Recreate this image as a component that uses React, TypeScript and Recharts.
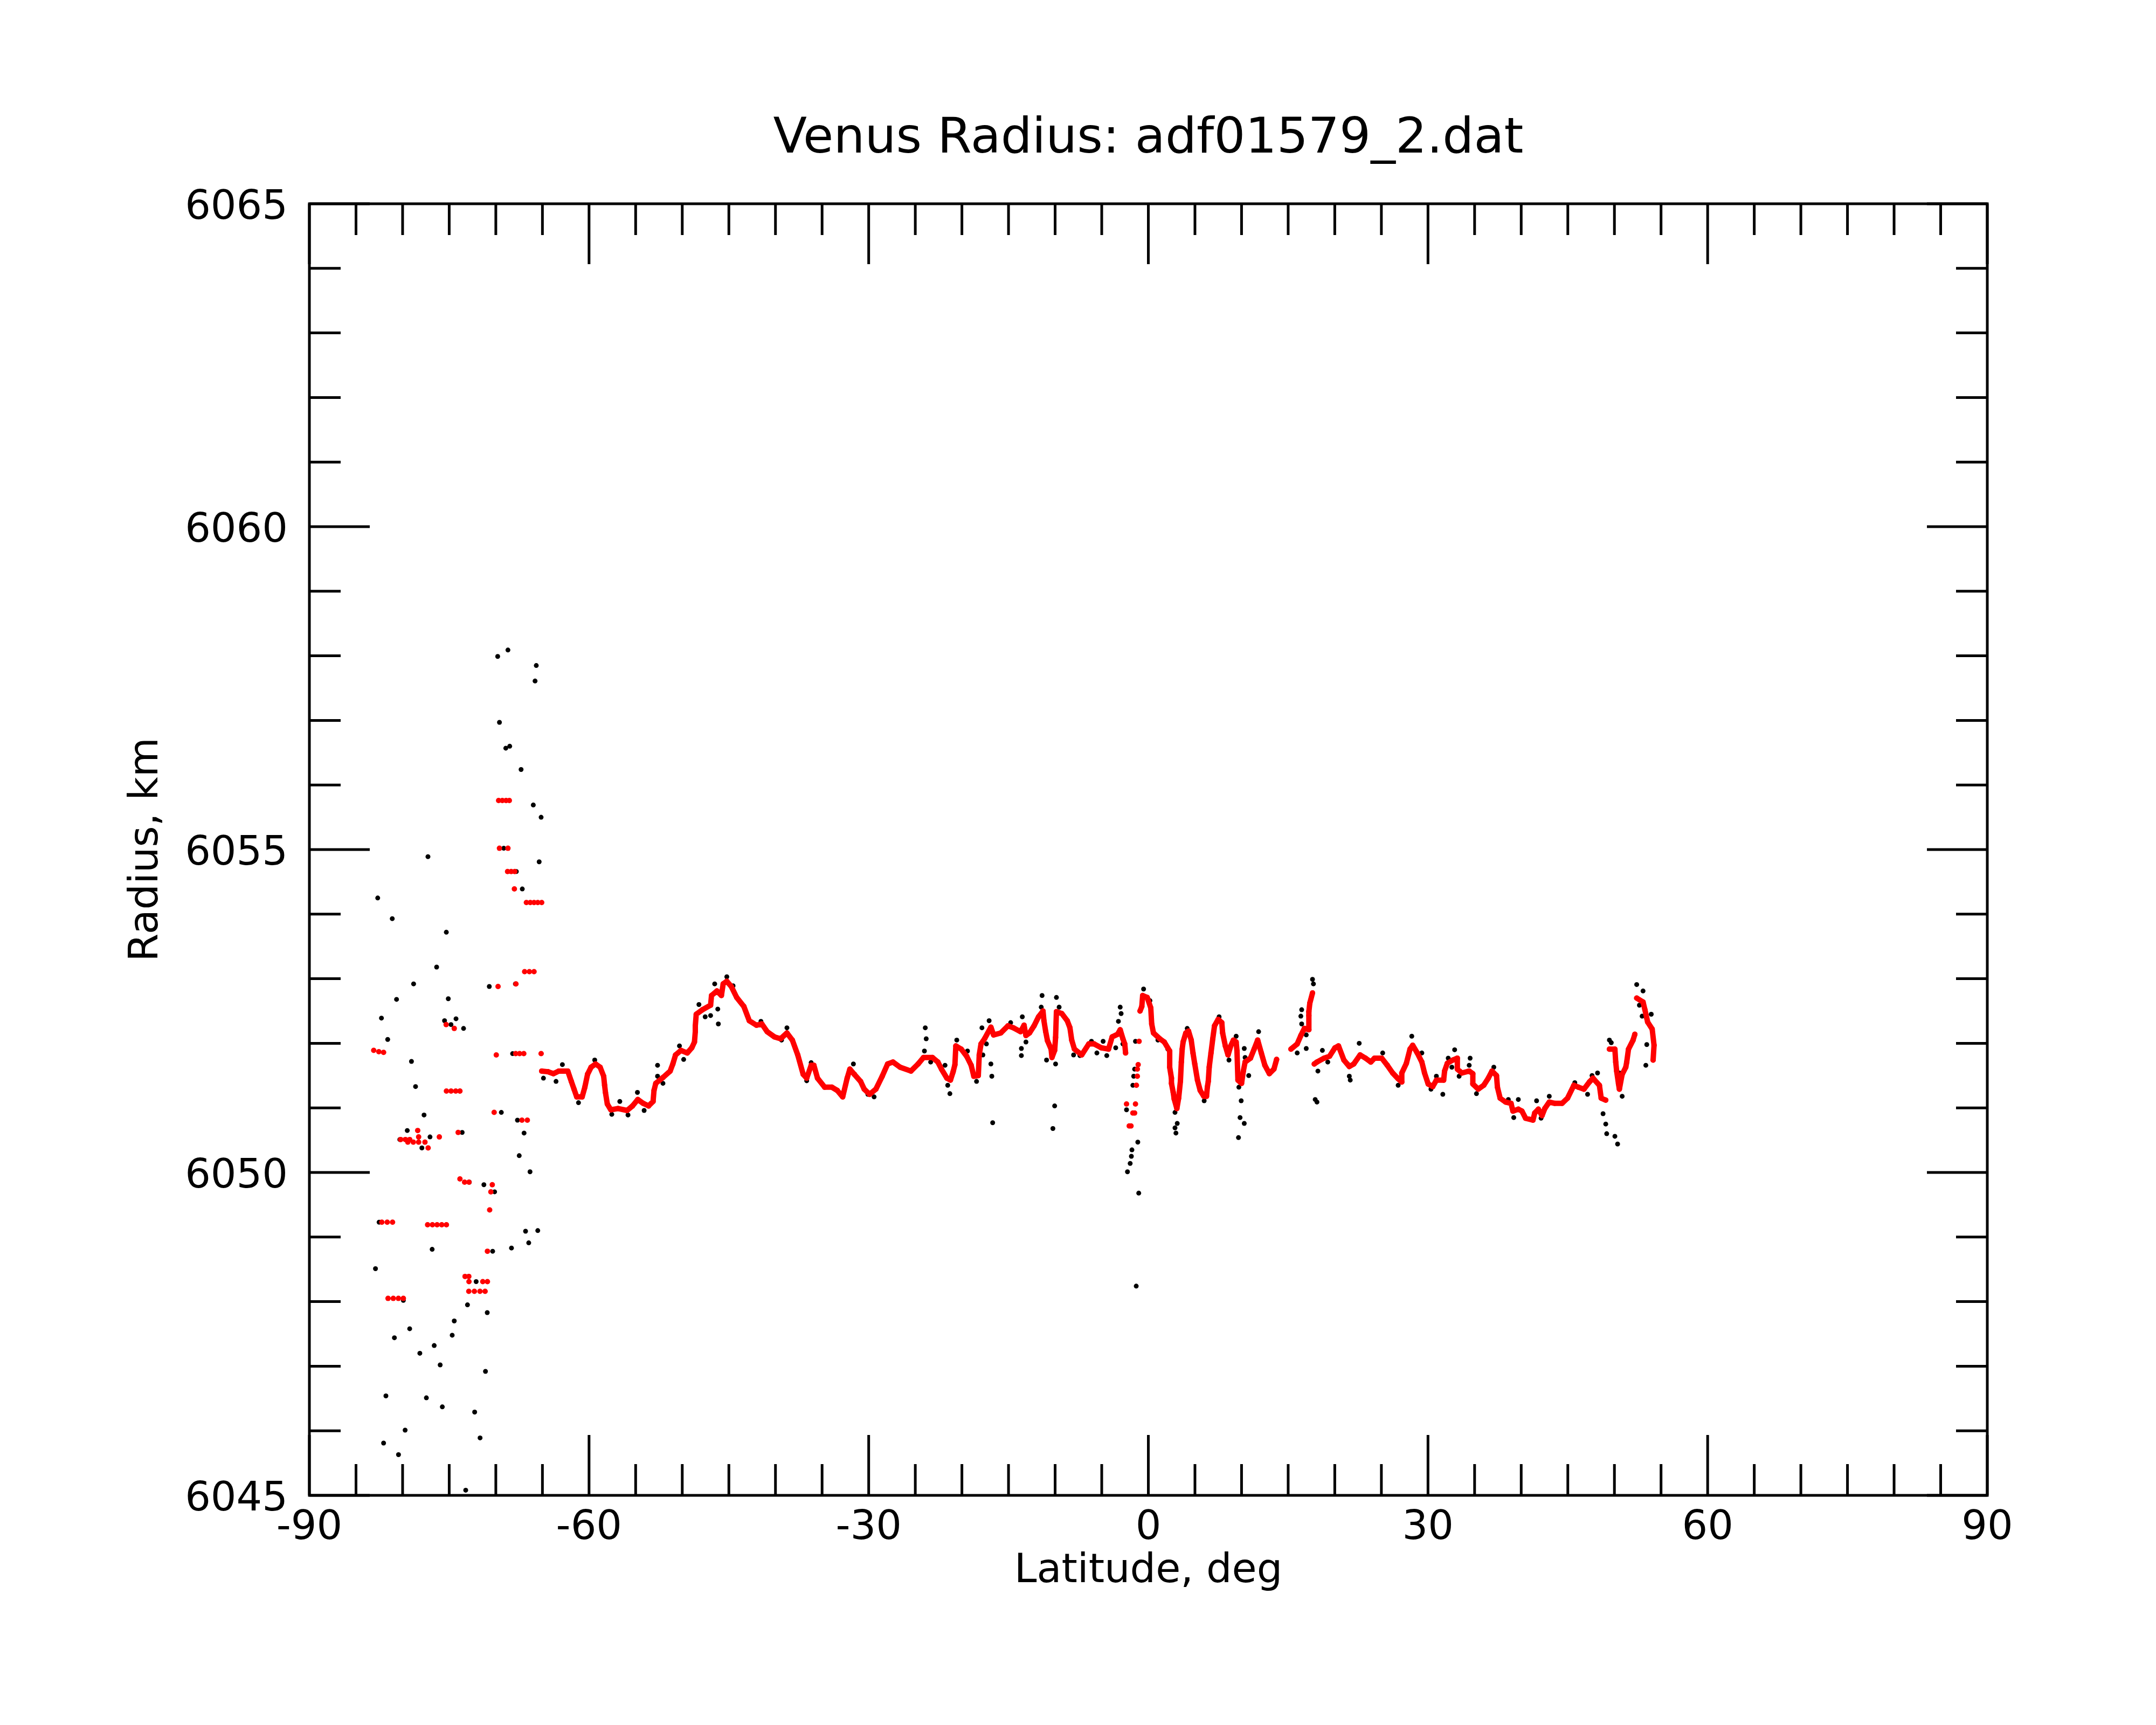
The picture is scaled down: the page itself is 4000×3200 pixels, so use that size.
import { ScatterChart, Scatter, XAxis, YAxis, ReferenceArea } from 'recharts';

// plot frame in page pixels
const W = 4000;
const H = 3200;
const PLOT_LEFT = 574;
const PLOT_TOP = 378;
const PLOT_RIGHT = 3687;
const PLOT_BOTTOM = 2774;
const PLOT_H = PLOT_BOTTOM - PLOT_TOP;
const FONT = '"DejaVu Sans", Verdana, sans-serif';

const X_TICKS = [-90, -85, -80, -75, -70, -65, -60, -55, -50, -45, -40, -35, -30, -25, -20, -15, -10, -5, 0,
  5, 10, 15, 20, 25, 30, 35, 40, 45, 50, 55, 60, 65, 70, 75, 80, 85, 90];
const Y_TICKS = [6045, 6046, 6047, 6048, 6049, 6050, 6051, 6052, 6053, 6054, 6055,
  6056, 6057, 6058, 6059, 6060, 6061, 6062, 6063, 6064, 6065];

// raw radius samples (black), south polar scatter
const rawSouth: [number, number][] = [
  [-68.70, 6058.09], [-69.80, 6057.99], [-65.66, 6057.85], [-65.79, 6057.61], [-69.61, 6056.97],
  [-68.93, 6056.57], [-68.51, 6056.60], [-67.29, 6056.24], [-65.98, 6055.69], [-65.14, 6055.50],
  [-77.28, 6054.89], [-69.15, 6055.02], [-65.35, 6054.81], [-67.80, 6054.66], [-67.16, 6054.39],
  [-82.67, 6054.25], [-81.11, 6053.93], [-75.31, 6053.72], [-76.35, 6053.18], [-78.82, 6052.92],
  [-70.70, 6052.88], [-67.90, 6052.92], [-80.65, 6052.68], [-75.10, 6052.69], [-82.27, 6052.39],
  [-75.50, 6052.35], [-74.27, 6052.38], [-74.81, 6052.29], [-73.46, 6052.23], [-81.60, 6052.06],
  [-79.05, 6051.72], [-68.20, 6051.84], [-65.14, 6051.84],
  [-78.61, 6051.33], [-73.86, 6051.26], [-77.70, 6050.89], [-69.41, 6050.93], [-67.68, 6050.81],
  [-66.97, 6050.61], [-79.50, 6050.65], [-80.30, 6050.51], [-77.06, 6050.55], [-77.93, 6050.38],
  [-73.61, 6050.62], [-67.49, 6050.26], [-66.33, 6050.01], [-72.84, 6049.85], [-71.28, 6049.81],
  [-70.13, 6049.70], [-82.52, 6049.23], [-76.83, 6048.81], [-66.81, 6049.09], [-65.50, 6049.10],
  [-66.47, 6048.91], [-68.32, 6048.83], [-70.34, 6048.78], [-82.91, 6048.51], [-72.90, 6048.39],
  [-72.11, 6048.31], [-81.56, 6048.05], [-79.92, 6048.02], [-73.04, 6047.95], [-70.92, 6047.83],
  [-74.46, 6047.70], [-79.24, 6047.58], [-80.88, 6047.44], [-74.68, 6047.48], [-76.61, 6047.32],
  [-78.15, 6047.20], [-75.97, 6047.02], [-71.11, 6046.92], [-81.79, 6046.54], [-77.45, 6046.51],
  [-75.74, 6046.37], [-72.27, 6046.29], [-79.73, 6046.01], [-71.69, 6045.89], [-82.04, 6045.81],
  [-80.44, 6045.63], [-73.23, 6045.08],
];

// raw samples that stand out from the smoothed profile
const rawMain: [number, number][] = [
  [-64.89, 6051.46], [-63.54, 6051.41], [-62.86, 6051.67], [-61.13, 6051.08], [-59.39, 6051.74],
  [-57.56, 6050.90], [-56.70, 6051.10], [-55.82, 6050.89], [-54.81, 6051.24], [-54.09, 6050.96],
  [-52.65, 6051.66], [-52.65, 6051.49], [-52.07, 6051.38], [-50.30, 6051.96], [-49.85, 6051.75],
  [-48.21, 6052.60], [-47.54, 6052.41], [-46.96, 6052.43], [-46.19, 6052.53], [-46.13, 6052.30],
  [-46.52, 6052.92], [-45.22, 6053.03], [-44.55, 6052.89], [-41.56, 6052.34], [-39.35, 6052.05],
  [-38.77, 6052.24], [-36.65, 6051.42], [-36.17, 6051.70],
  [-23.93, 6052.24], [-23.83, 6052.07], [-24.02, 6051.88], [-23.35, 6051.71], [-31.64, 6051.68],
  [-30.09, 6051.21], [-29.42, 6051.17], [-21.81, 6051.66], [-21.52, 6051.35], [-21.29, 6051.22],
  [-20.55, 6052.05], [-19.40, 6051.88], [-18.43, 6051.41], [-17.85, 6052.24], [-17.08, 6052.35],
  [-17.37, 6051.99], [-17.75, 6051.82], [-16.89, 6051.68], [-16.79, 6051.49], [-16.70, 6050.77],
  [-14.77, 6052.32], [-13.52, 6052.41], [-13.13, 6052.02], [-13.62, 6051.92], [-13.62, 6051.81],
  [-11.40, 6052.74], [-11.49, 6052.56], [-10.92, 6051.74], [-10.05, 6051.03], [-10.24, 6050.68],
  [-9.95, 6051.68], [-9.86, 6052.71], [-9.57, 6052.56], [-8.02, 6051.82], [-7.34, 6051.81],
  [-6.10, 6052.03],
  [-5.52, 6051.85], [-4.46, 6051.81], [-4.85, 6052.03], [-3.50, 6051.93], [-3.02, 6052.56],
  [-2.92, 6052.46], [-3.21, 6052.34], [-2.73, 6051.99], [-1.38, 6052.03], [-1.47, 6051.60],
  [-1.57, 6051.49], [-1.66, 6051.35], [-2.34, 6050.97], [-1.13, 6050.47], [-1.76, 6050.35],
  [-1.82, 6050.25], [-1.95, 6050.14], [-2.24, 6050.01], [-1.03, 6049.68], [-1.30, 6048.24],
  [-0.51, 6052.84], [0.17, 6052.66], [1.03, 6052.05], [2.09, 6051.91], [2.86, 6050.93],
  [3.10, 6050.76], [2.86, 6050.69], [2.96, 6050.61], [4.17, 6052.23], [5.99, 6051.11],
  [7.59, 6052.41], [8.65, 6051.74], [9.42, 6052.11], [10.29, 6051.92], [10.38, 6051.78],
  [10.77, 6051.50], [9.71, 6051.32], [9.96, 6051.11], [9.84, 6050.85], [10.29, 6050.76],
  [9.67, 6050.54], [11.83, 6052.18], [15.97, 6051.85], [16.94, 6051.92], [16.94, 6052.13],
  [16.45, 6052.30], [16.36, 6052.42], [16.45, 6052.52], [17.61, 6052.99], [17.71, 6052.92],
  [17.90, 6051.13], [18.09, 6051.09], [18.19, 6051.57], [18.67, 6051.89], [19.25, 6051.71],
  [22.62, 6052.00], [21.56, 6051.49], [21.66, 6051.43], [21.37, 6051.68],
  [25.14, 6051.85], [28.26, 6052.11], [29.34, 6051.85], [26.80, 6051.35], [30.32, 6051.29],
  [30.90, 6051.49], [31.59, 6051.21], [32.86, 6051.90], [32.17, 6051.77], [32.56, 6051.63],
  [34.52, 6051.77], [34.42, 6051.66], [33.34, 6051.49], [37.06, 6051.63], [35.20, 6051.22],
  [38.62, 6051.13], [39.69, 6051.13], [39.20, 6050.85], [41.65, 6051.11], [43.01, 6051.18],
  [42.13, 6050.84], [45.75, 6051.39], [47.12, 6051.21], [47.60, 6051.50], [48.19, 6051.54],
  [49.46, 6052.05], [49.66, 6052.01], [48.78, 6050.91], [49.07, 6050.75], [49.17, 6050.60],
  [50.05, 6050.56], [50.34, 6050.44], [50.83, 6051.18], [50.53, 6051.54], [52.39, 6052.91],
  [53.07, 6052.81], [52.68, 6052.59], [52.97, 6052.42], [53.95, 6052.45], [53.47, 6051.98],
  [53.37, 6051.66],
];

// smoothed profile (red), south polar steps
const smoothSouth: [number, number][] = [
  [-69.70, 6055.76], [-69.30, 6055.76], [-68.90, 6055.76], [-68.55, 6055.76],
  [-69.61, 6055.02], [-68.70, 6055.02],
  [-68.74, 6054.66], [-68.35, 6054.66], [-67.97, 6054.66], [-68.01, 6054.39],
  [-66.72, 6054.18], [-66.30, 6054.18], [-65.90, 6054.18], [-65.50, 6054.18], [-65.08, 6054.18],
  [-66.91, 6053.11], [-66.40, 6053.11], [-65.90, 6053.11],
  [-69.76, 6052.88], [-67.84, 6052.92], [-75.33, 6052.29], [-74.46, 6052.23],
  [-83.10, 6051.89], [-82.55, 6051.87], [-82.04, 6051.86], [-69.95, 6051.82],
  [-67.87, 6051.84], [-67.45, 6051.84], [-67.00, 6051.84], [-65.14, 6051.84],
  [-75.30, 6051.26], [-74.80, 6051.26], [-74.30, 6051.26], [-73.85, 6051.26],
  [-70.18, 6050.93], [-67.20, 6050.81], [-66.62, 6050.81], [-78.38, 6050.65],
  [-80.21, 6050.51], [-79.70, 6050.51], [-79.24, 6050.51], [-78.28, 6050.55], [-76.06, 6050.55],
  [-79.44, 6050.47], [-78.85, 6050.47], [-78.28, 6050.47], [-77.60, 6050.47], [-77.26, 6050.38],
  [-74.04, 6050.62], [-73.85, 6049.90], [-73.35, 6049.85], [-72.88, 6049.85],
  [-70.38, 6049.81], [-70.53, 6049.70], [-70.66, 6049.42],
  [-82.23, 6049.23], [-81.65, 6049.23], [-81.08, 6049.23],
  [-77.32, 6049.19], [-76.80, 6049.19], [-76.30, 6049.19], [-75.80, 6049.19], [-75.30, 6049.19],
  [-70.90, 6048.78], [-73.30, 6048.39], [-72.90, 6048.39],
  [-72.88, 6048.31], [-71.40, 6048.31], [-70.90, 6048.31],
  [-72.90, 6048.16], [-72.30, 6048.16], [-71.70, 6048.16], [-71.15, 6048.16],
  [-81.56, 6048.05], [-81.00, 6048.05], [-80.45, 6048.05], [-79.92, 6048.05],
  // loose dots near the equator
  [-0.99, 6052.03], [-1.09, 6051.67], [-1.18, 6051.60], [-1.18, 6051.49], [-1.28, 6051.35],
  [-2.34, 6051.06], [-1.38, 6051.06], [-1.66, 6050.92], [-1.47, 6050.92], [-2.05, 6050.72],
  [-1.86, 6050.72],
];

// smoothed profile, continuous runs
const smoothRunA: [number, number][] = [
  [-65.08, 6051.57], [-64.40, 6051.56], [-63.82, 6051.53], [-63.25, 6051.57], [-62.28, 6051.57],
  [-61.90, 6051.41], [-61.61, 6051.29], [-61.32, 6051.17], [-60.74, 6051.17], [-60.45, 6051.32],
  [-60.16, 6051.52], [-59.78, 6051.63], [-59.30, 6051.68], [-58.81, 6051.63], [-58.43, 6051.49],
  [-58.33, 6051.35], [-58.24, 6051.24], [-58.04, 6051.06], [-57.66, 6050.97], [-56.89, 6050.99],
  [-55.92, 6050.96], [-55.34, 6051.03], [-54.77, 6051.13], [-54.19, 6051.07], [-53.61, 6051.03],
  [-53.13, 6051.10], [-53.03, 6051.27], [-52.84, 6051.38], [-52.07, 6051.47], [-51.30, 6051.57],
  [-51.01, 6051.68], [-50.72, 6051.82], [-50.14, 6051.89], [-49.46, 6051.85], [-48.98, 6051.93],
  [-48.69, 6052.02], [-48.60, 6052.18], [-48.60, 6052.27], [-48.50, 6052.45], [-47.83, 6052.52],
  [-46.96, 6052.59], [-46.86, 6052.74], [-46.28, 6052.81], [-45.80, 6052.74], [-45.61, 6052.92],
  [-45.22, 6052.96], [-44.74, 6052.88], [-44.16, 6052.71], [-43.39, 6052.57], [-42.81, 6052.35],
  [-42.04, 6052.28], [-41.46, 6052.30], [-40.89, 6052.18], [-40.12, 6052.10], [-39.45, 6052.07],
  [-38.77, 6052.16], [-38.19, 6052.05], [-37.61, 6051.82], [-37.03, 6051.52], [-36.65, 6051.46],
  [-36.17, 6051.66], [-35.88, 6051.66], [-35.49, 6051.46], [-34.72, 6051.32], [-33.95, 6051.32],
  [-33.37, 6051.27], [-32.79, 6051.17], [-32.31, 6051.46], [-32.02, 6051.60], [-31.54, 6051.52],
  [-30.87, 6051.41], [-30.48, 6051.29], [-29.90, 6051.21], [-29.23, 6051.29], [-28.55, 6051.49],
  [-27.97, 6051.68], [-27.40, 6051.71], [-26.63, 6051.63], [-25.47, 6051.57], [-24.70, 6051.68],
  [-24.12, 6051.78], [-23.16, 6051.78], [-22.58, 6051.71], [-22.19, 6051.60], [-21.61, 6051.46],
  [-21.23, 6051.43], [-20.94, 6051.56], [-20.75, 6051.67], [-20.65, 6051.96], [-20.07, 6051.91],
  [-19.49, 6051.80], [-19.01, 6051.66], [-18.72, 6051.49], [-18.24, 6051.50], [-18.14, 6051.82],
  [-17.95, 6051.99], [-17.57, 6052.07], [-16.89, 6052.25], [-16.60, 6052.13], [-15.83, 6052.16],
  [-15.06, 6052.27], [-14.48, 6052.24], [-13.71, 6052.18], [-13.33, 6052.28], [-13.13, 6052.12],
  [-12.75, 6052.16], [-12.26, 6052.27], [-11.78, 6052.41], [-11.30, 6052.50], [-11.20, 6052.35],
  [-11.01, 6052.18], [-10.82, 6052.04], [-10.43, 6051.91], [-10.34, 6051.78], [-10.05, 6051.89],
  [-9.95, 6052.09], [-9.86, 6052.49], [-9.28, 6052.46], [-8.70, 6052.35], [-8.41, 6052.24],
  [-8.22, 6052.05], [-7.93, 6051.91], [-7.15, 6051.82], [-6.39, 6051.99], [-5.81, 6051.99],
  [-5.04, 6051.93], [-4.27, 6051.91], [-3.88, 6052.10], [-3.30, 6052.14], [-3.02, 6052.21],
  [-2.73, 6052.07], [-2.53, 6051.99], [-2.44, 6051.85],
];

const smoothRunB: [number, number][] = [
  [-0.89, 6052.50], [-0.70, 6052.57], [-0.61, 6052.74], [-0.12, 6052.71], [0.26, 6052.55],
  [0.36, 6052.30], [0.55, 6052.16], [1.23, 6052.07], [1.71, 6052.02], [2.29, 6051.88],
  [2.29, 6051.63], [2.48, 6051.46], [2.48, 6051.38], [2.67, 6051.24], [2.77, 6051.14],
  [3.06, 6050.99], [3.25, 6051.15], [3.44, 6051.41], [3.54, 6051.71], [3.63, 6051.91],
  [3.73, 6052.02], [4.02, 6052.16], [4.31, 6052.19], [4.60, 6052.05], [4.79, 6051.85],
  [4.98, 6051.68], [5.27, 6051.43], [5.56, 6051.27], [5.95, 6051.18], [6.24, 6051.18],
  [6.33, 6051.32], [6.43, 6051.41], [6.53, 6051.63], [6.72, 6051.85], [6.91, 6052.07],
  [7.10, 6052.27], [7.49, 6052.37], [7.88, 6052.32], [7.97, 6052.16], [8.26, 6051.96],
  [8.55, 6051.82], [8.84, 6051.96], [9.13, 6052.05], [9.42, 6052.02], [9.51, 6051.88],
  [9.61, 6051.43], [10.00, 6051.38], [10.19, 6051.57], [10.38, 6051.71], [10.96, 6051.77],
  [11.35, 6051.91], [11.73, 6052.05], [12.12, 6051.85], [12.50, 6051.66], [12.98, 6051.53],
  [13.47, 6051.60], [13.76, 6051.75],
];

const smoothRunC: [number, number][] = [
  [15.30, 6051.91], [15.97, 6051.99], [16.36, 6052.12], [16.74, 6052.23], [17.22, 6052.21],
  [17.22, 6052.43], [17.22, 6052.49], [17.32, 6052.62], [17.61, 6052.78],
];

const smoothRunD: [number, number][] = [
  [17.80, 6051.68], [18.09, 6051.71], [18.86, 6051.77], [19.44, 6051.80], [20.02, 6051.93],
  [20.40, 6051.96], [20.98, 6051.74], [21.56, 6051.64], [22.04, 6051.68], [22.72, 6051.82],
  [23.30, 6051.77], [23.87, 6051.71], [24.26, 6051.77], [25.04, 6051.77], [25.63, 6051.66],
  [26.21, 6051.54], [26.80, 6051.45], [27.19, 6051.40], [27.19, 6051.54], [27.68, 6051.69],
  [28.07, 6051.91], [28.36, 6051.97], [28.85, 6051.85], [29.34, 6051.71], [29.63, 6051.54],
  [30.02, 6051.37], [30.51, 6051.33], [30.90, 6051.43], [31.68, 6051.43], [31.78, 6051.57],
  [32.07, 6051.69], [32.66, 6051.74], [33.15, 6051.77], [33.15, 6051.60], [33.64, 6051.54],
  [34.42, 6051.57], [34.81, 6051.53], [34.81, 6051.37], [35.39, 6051.29], [35.98, 6051.35],
  [36.47, 6051.46], [36.86, 6051.57], [37.35, 6051.50], [37.45, 6051.32], [37.74, 6051.15],
  [38.33, 6051.09], [38.91, 6051.07], [39.11, 6050.95], [39.69, 6050.98], [40.08, 6050.95],
  [40.47, 6050.84], [41.26, 6050.81], [41.45, 6050.92], [41.84, 6050.98], [42.23, 6050.88],
  [42.53, 6050.99], [43.01, 6051.09], [43.60, 6051.07], [44.38, 6051.07], [44.97, 6051.15],
  [45.65, 6051.35], [46.14, 6051.32], [46.73, 6051.29], [47.31, 6051.40], [47.70, 6051.46],
  [48.39, 6051.35], [48.58, 6051.15], [49.07, 6051.12],
];

const smoothRunE: [number, number][] = [
  [49.46, 6051.91], [50.05, 6051.91], [50.14, 6051.71], [50.24, 6051.57], [50.44, 6051.37],
  [50.53, 6051.29], [50.83, 6051.52], [51.22, 6051.63], [51.32, 6051.71], [51.51, 6051.91],
  [52.00, 6052.05], [52.19, 6052.14],
];

const smoothRunF: [number, number][] = [
  [52.39, 6052.70], [53.07, 6052.64], [53.27, 6052.52], [53.47, 6052.39], [53.56, 6052.33],
  [54.05, 6052.22], [54.25, 6051.97], [54.15, 6051.74],
];

const toPoints = (rows: [number, number][]) => rows.map(([lat, r]) => ({ lat, r }));

const blackDot = (p: any) => <circle cx={p.cx} cy={p.cy} r={4.5} fill="#000000" />;
const redDot = (p: any) => <circle cx={p.cx} cy={p.cy} r={5} fill="#ff0000" />;

function XTick({ x, payload }: any) {
  const v = payload.value;
  const major = v % 30 === 0;
  const len = major ? 112 : 58;
  return (
    <g>
      <line x1={x} y1={PLOT_BOTTOM} x2={x} y2={PLOT_BOTTOM - len} stroke="#000" strokeWidth={5} />
      <line x1={x} y1={PLOT_TOP} x2={x} y2={PLOT_TOP + len} stroke="#000" strokeWidth={5} />
      {major && (
        <text x={x} y={PLOT_BOTTOM + 81} textAnchor="middle" fontSize={75} fontFamily={FONT} fill="#000">
          {v}
        </text>
      )}
    </g>
  );
}

function YTick({ y, payload }: any) {
  const v = payload.value;
  const major = (v - 6045) % 5 === 0;
  const len = major ? 112 : 58;
  return (
    <g>
      <line x1={PLOT_LEFT} y1={y} x2={PLOT_LEFT + len} y2={y} stroke="#000" strokeWidth={5} />
      <line x1={PLOT_RIGHT} y1={y} x2={PLOT_RIGHT - len} y2={y} stroke="#000" strokeWidth={5} />
      {major && (
        <text x={534} y={y + 28} textAnchor="end" fontSize={75} fontFamily={FONT} fill="#000">
          {v}
        </text>
      )}
    </g>
  );
}

const runs = [smoothRunA, smoothRunB, smoothRunC, smoothRunD, smoothRunE, smoothRunF];

export default function App() {
  return (
    <div style={{ position: 'absolute', left: 0, top: 0, width: W, height: H, background: '#fff' }}>
      <ScatterChart
        width={W}
        height={H}
        margin={{ top: PLOT_TOP, right: W - PLOT_RIGHT, bottom: 0, left: 0 }}
      >
        <XAxis
          type="number"
          dataKey="lat"
          domain={[-90, 90]}
          allowDataOverflow
          ticks={X_TICKS}
          interval={0}
          height={H - PLOT_BOTTOM}
          tickSize={0}
          tickMargin={0}
          axisLine={false}
          tickLine={false}
          tick={<XTick />}
        />
        <YAxis
          type="number"
          dataKey="r"
          domain={[6045, 6065]}
          allowDataOverflow
          ticks={Y_TICKS}
          interval={0}
          width={PLOT_LEFT}
          tickSize={0}
          tickMargin={0}
          axisLine={false}
          tickLine={false}
          tick={<YTick />}
        />
        <Scatter data={toPoints(rawSouth)} shape={blackDot} isAnimationActive={false} />
        <Scatter data={toPoints(rawMain)} shape={blackDot} isAnimationActive={false} />
        <Scatter data={toPoints(smoothSouth)} shape={redDot} isAnimationActive={false} />
        {runs.map((run, i) => (
          <Scatter
            key={i}
            data={toPoints(run)}
            shape={redDot}
            line={{ stroke: '#ff0000', strokeWidth: 10, strokeLinejoin: 'round', strokeLinecap: 'round' }}
            isAnimationActive={false}
          />
        ))}
        <ReferenceArea x1={-90} x2={90} y1={6045} y2={6065} fill="none" stroke="#000" strokeWidth={5} />
      </ScatterChart>
      <svg width={W} height={H} style={{ position: 'absolute', left: 0, top: 0, pointerEvents: 'none' }}>
        <text x={(PLOT_LEFT + PLOT_RIGHT) / 2} y={283} textAnchor="middle" fontSize={91.5} fontFamily={FONT}>
          Venus Radius: adf01579_2.dat
        </text>
        <text x={(PLOT_LEFT + PLOT_RIGHT) / 2} y={2935} textAnchor="middle" fontSize={75} fontFamily={FONT}>
          Latitude, deg
        </text>
        <text
          x={292}
          y={PLOT_TOP + PLOT_H / 2}
          textAnchor="middle"
          fontSize={75}
          fontFamily={FONT}
          transform={`rotate(-90 292 ${PLOT_TOP + PLOT_H / 2})`}
        >
          Radius, km
        </text>
      </svg>
    </div>
  );
}
